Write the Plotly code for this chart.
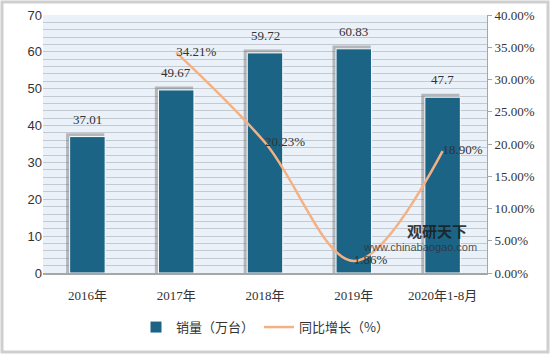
import plotly.graph_objects as go

categories = ["2016年", "2017年", "2018年", "2019年", "2020年1-8月"]
sales = [37.01, 49.67, 59.72, 60.83, 47.7]
sales_labels = ["37.01", "49.67", "59.72", "60.83", "47.7"]
growth = [None, 34.21, 20.23, 1.86, 18.90]
growth_labels = ["", "34.21%", "20.23%", "1.86%", "18.90%"]
right_ticks = [0, 5, 10, 15, 20, 25, 30, 35, 40]

num_font = "Liberation Serif, Noto Sans CJK SC"
cjk_font = "Noto Sans CJK SC"

fig = go.Figure()

# shadow behind bars
fig.add_trace(go.Bar(
    x=categories, y=[v + 0.9 for v in sales], width=0.43, offset=-0.24,
    marker=dict(color="rgba(110,110,110,0.45)", line=dict(width=0)),
    showlegend=False, hoverinfo="skip", yaxis="y",
))
fig.add_trace(go.Bar(
    x=categories, y=sales, name="销量（万台）", width=0.4,
    marker=dict(color="#1B6486", line=dict(color="white", width=1)),
    yaxis="y",
))
fig.add_trace(go.Scatter(
    x=categories, y=growth, name="同比增长（%）", mode="lines+text",
    line=dict(color="#F4B183", width=2.5, shape="spline", smoothing=1.0),
    text=growth_labels, textposition="middle right",
    textfont=dict(family=num_font, size=13, color="#333333"),
    yaxis="y2", connectgaps=False, cliponaxis=False,
))

for c, v, t in zip(categories, sales, sales_labels):
    fig.add_annotation(x=c, y=v, xref="x", yref="y", text=t, showarrow=False,
                       yanchor="bottom", yshift=8,
                       font=dict(family=num_font, size=13, color="#333333"))

fig.update_layout(
    width=550, height=354,
    margin=dict(l=43, r=63, t=15, b=81, autoexpand=False),
    paper_bgcolor="white",
    plot_bgcolor="#EBF1F8",
    barmode="overlay",
    xaxis=dict(
        type="category", showline=True, linecolor="#A6A6A6", linewidth=1.5,
        ticks="", ticklabelstandoff=10,
        tickfont=dict(family=num_font, size=13, color="#333333"),
        showgrid=False, automargin=False,
    ),
    yaxis=dict(
        range=[0, 70], dtick=10, showline=False, zeroline=False, automargin=False,
        tickfont=dict(family="Liberation Sans, Arial", size=13, color="#333333"),
        showgrid=True, gridcolor="#C3C9D1", gridwidth=1,
        minor=dict(dtick=2, showgrid=True, gridcolor="#C3C9D1", gridwidth=1),
    ),
    yaxis2=dict(
        overlaying="y", side="right", range=[0, 40], automargin=False,
        tickvals=right_ticks, ticktext=[f"{v:.2f}%" for v in right_ticks],
        showline=True, linecolor="#A6A6A6", linewidth=1,
        ticks="outside", ticklen=4, tickcolor="#A6A6A6",
        showgrid=False, zeroline=False,
        tickfont=dict(family=num_font, size=13, color="#333333"),
    ),
    legend=dict(
        orientation="h", x=0.5, xanchor="center",
        yref="container", y=0.076, yanchor="middle",
        font=dict(family=cjk_font, size=13, color="#333333"),
        traceorder="normal",
    ),
    showlegend=True,
)

# watermark
fig.add_annotation(x=0.887, y=0.163, xref="paper", yref="paper", text="<b>观研天下</b>",
                   xanchor="center", yanchor="middle",
                   showarrow=False, font=dict(family=cjk_font, size=15, color="rgba(30,30,30,0.9)"))
fig.add_annotation(x=0.85, y=0.1, xref="paper", yref="paper", text="www.chinabaogao.com",
                   xanchor="center", yanchor="middle",
                   showarrow=False, font=dict(family="Liberation Sans", size=11, color="rgba(50,50,50,0.85)"))

# outer frame
fig.update_layout(shapes=[dict(type="rect", xref="paper", yref="paper",
                               x0=-41/444, x1=1+61/444, y0=-79/258, y1=1+13/258,
                               line=dict(color="#CFCFCF", width=3), layer="below")])

fig.write_html("out.html")
